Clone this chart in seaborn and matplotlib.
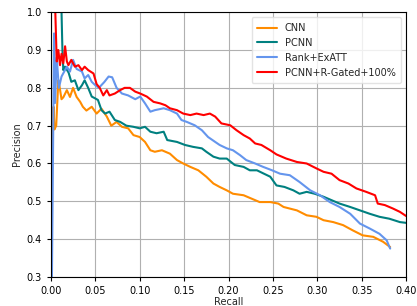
import numpy as np
import pandas as pd
import matplotlib
matplotlib.use("Agg")
import matplotlib.pyplot as plt
import seaborn as sns

labels = ["CNN", "PCNN", "Rank+ExATT", "PCNN+R-Gated+100%"]
colors = ["darkorange", "teal", "cornflowerblue", "red"]

cnn_recall = [0.001, 0.003, 0.004, 0.006, 0.0084, 0.010, 0.012, 0.014, 0.018, 0.0215, 0.025, 0.029, 0.033, 0.036, 0.040, 0.046, 0.0515, 0.057, 0.063, 0.068, 0.074, 0.080, 0.087, 0.093, 0.100, 0.106, 0.112, 0.117, 0.125, 0.134, 0.142, 0.149, 0.157, 0.166, 0.175, 0.183, 0.190, 0.198, 0.205, 0.217, 0.226, 0.235, 0.247, 0.256, 0.262, 0.277, 0.288, 0.299, 0.307, 0.318, 0.329, 0.340, 0.351, 0.363, 0.374, 0.382]
cnn_prec = [0.60, 0.75, 0.69, 0.70, 0.82, 0.80, 0.77, 0.775, 0.794, 0.776, 0.80, 0.776, 0.763, 0.75, 0.74, 0.75, 0.732, 0.745, 0.724, 0.70, 0.71, 0.697, 0.693, 0.675, 0.67, 0.657, 0.635, 0.631, 0.635, 0.626, 0.609, 0.60, 0.591, 0.582, 0.565, 0.547, 0.538, 0.529, 0.52, 0.516, 0.507, 0.498, 0.498, 0.494, 0.485, 0.476, 0.463, 0.459, 0.45, 0.445, 0.437, 0.423, 0.41, 0.406, 0.393, 0.379]

pcnn_recall = [0.012, 0.013, 0.014, 0.016, 0.020, 0.023, 0.027, 0.031, 0.035, 0.038, 0.042, 0.046, 0.050, 0.053, 0.057, 0.061, 0.066, 0.072, 0.078, 0.085, 0.093, 0.100, 0.106, 0.112, 0.119, 0.127, 0.131, 0.142, 0.151, 0.160, 0.170, 0.175, 0.183, 0.190, 0.198, 0.207, 0.217, 0.224, 0.232, 0.239, 0.247, 0.254, 0.263, 0.273, 0.280, 0.288, 0.297, 0.307, 0.316, 0.325, 0.337, 0.348, 0.359, 0.370, 0.381, 0.393, 0.400]
pcnn_prec = [1.00, 0.90, 0.847, 0.856, 0.84, 0.816, 0.82, 0.794, 0.807, 0.82, 0.80, 0.777, 0.772, 0.768, 0.741, 0.732, 0.737, 0.715, 0.71, 0.70, 0.697, 0.693, 0.697, 0.684, 0.68, 0.684, 0.662, 0.657, 0.649, 0.644, 0.64, 0.631, 0.618, 0.613, 0.613, 0.596, 0.591, 0.582, 0.582, 0.574, 0.565, 0.542, 0.538, 0.529, 0.52, 0.525, 0.52, 0.512, 0.503, 0.494, 0.485, 0.476, 0.467, 0.459, 0.454, 0.445, 0.443]

rank_recall = [0.001, 0.0036, 0.0047, 0.0066, 0.009, 0.012, 0.018, 0.0215, 0.025, 0.029, 0.035, 0.038, 0.042, 0.046, 0.050, 0.054, 0.060, 0.065, 0.069, 0.074, 0.080, 0.087, 0.095, 0.1006, 0.106, 0.112, 0.117, 0.127, 0.134, 0.142, 0.147, 0.153, 0.162, 0.170, 0.177, 0.185, 0.190, 0.198, 0.205, 0.213, 0.220, 0.230, 0.239, 0.249, 0.258, 0.269, 0.280, 0.292, 0.303, 0.314, 0.325, 0.337, 0.348, 0.359, 0.370, 0.378, 0.382]
rank_prec = [0.25, 0.944, 0.76, 0.88, 0.80, 0.83, 0.856, 0.843, 0.874, 0.85, 0.843, 0.825, 0.834, 0.816, 0.807, 0.80, 0.815, 0.83, 0.828, 0.80, 0.785, 0.78, 0.77, 0.777, 0.759, 0.737, 0.741, 0.746, 0.741, 0.732, 0.715, 0.71, 0.701, 0.688, 0.67, 0.657, 0.649, 0.64, 0.635, 0.622, 0.609, 0.60, 0.591, 0.582, 0.573, 0.569, 0.551, 0.529, 0.516, 0.498, 0.485, 0.467, 0.441, 0.428, 0.414, 0.397, 0.375]

gated_recall = [0.005, 0.0066, 0.0084, 0.0103, 0.012, 0.014, 0.016, 0.018, 0.0197, 0.023, 0.027, 0.031, 0.035, 0.038, 0.042, 0.048, 0.0515, 0.055, 0.059, 0.063, 0.066, 0.072, 0.078, 0.083, 0.089, 0.095, 0.1006, 0.108, 0.1156, 0.123, 0.129, 0.134, 0.142, 0.149, 0.157, 0.164, 0.172, 0.179, 0.185, 0.192, 0.202, 0.209, 0.217, 0.224, 0.230, 0.237, 0.247, 0.254, 0.265, 0.277, 0.288, 0.299, 0.307, 0.316, 0.325, 0.335, 0.344, 0.355, 0.365, 0.368, 0.376, 0.385, 0.393, 0.400]
gated_prec = [1.00, 0.87, 0.90, 0.86, 0.89, 0.865, 0.91, 0.87, 0.86, 0.874, 0.856, 0.86, 0.847, 0.856, 0.847, 0.838, 0.81, 0.80, 0.78, 0.794, 0.78, 0.785, 0.794, 0.80, 0.80, 0.79, 0.785, 0.777, 0.763, 0.759, 0.754, 0.746, 0.741, 0.732, 0.728, 0.732, 0.728, 0.732, 0.724, 0.706, 0.701, 0.688, 0.675, 0.666, 0.653, 0.649, 0.635, 0.624, 0.613, 0.604, 0.60, 0.587, 0.578, 0.573, 0.556, 0.547, 0.534, 0.525, 0.516, 0.494, 0.49, 0.481, 0.472, 0.461]

series = [(cnn_recall, cnn_prec), (pcnn_recall, pcnn_prec), (rank_recall, rank_prec), (gated_recall, gated_prec)]
frames = []
for lab, (r, p) in zip(labels, series):
    frames.append(pd.DataFrame({"Recall": r, "Precision": p, "model": lab}))
df = pd.concat(frames, ignore_index=True)

sns.set_style("white")
plt.rcParams["font.family"] = ["DejaVu Sans"]

fig = plt.figure(figsize=(4.17, 3.06), dpi=100)
ax = fig.add_axes([0.122, 0.095, 0.852, 0.865])
sns.lineplot(data=df, x="Recall", y="Precision", hue="model", hue_order=labels,
             palette=colors, sort=False, estimator=None, units="model", lw=1.5, ax=ax)

ax.set_xlim(0, 0.4)
ax.set_ylim(0.3, 1.0)
ax.set_xticks(np.arange(0, 0.401, 0.05))
ax.set_xticklabels([f"{v:.2f}" for v in np.arange(0, 0.401, 0.05)])
ax.set_yticks(np.arange(0.3, 1.001, 0.1))
ax.set_yticklabels([f"{v:.1f}" for v in np.arange(0.3, 1.001, 0.1)])
ax.grid(True, color="#b0b0b0", lw=0.8)
ax.tick_params(labelsize=7, direction="out", length=3, width=0.8, left=True, bottom=True, colors="black")
ax.set_xlabel("Recall", fontsize=7, labelpad=1)
ax.set_ylabel("Precision", fontsize=7, labelpad=3)
for s in ax.spines.values():
    s.set_color("black")
    s.set_linewidth(0.8)
ax.legend(loc="upper right", fontsize=7, frameon=True, edgecolor="#dddddd", fancybox=True, handlelength=2.0, borderpad=0.6)
fig.savefig("out.png", dpi=100)
